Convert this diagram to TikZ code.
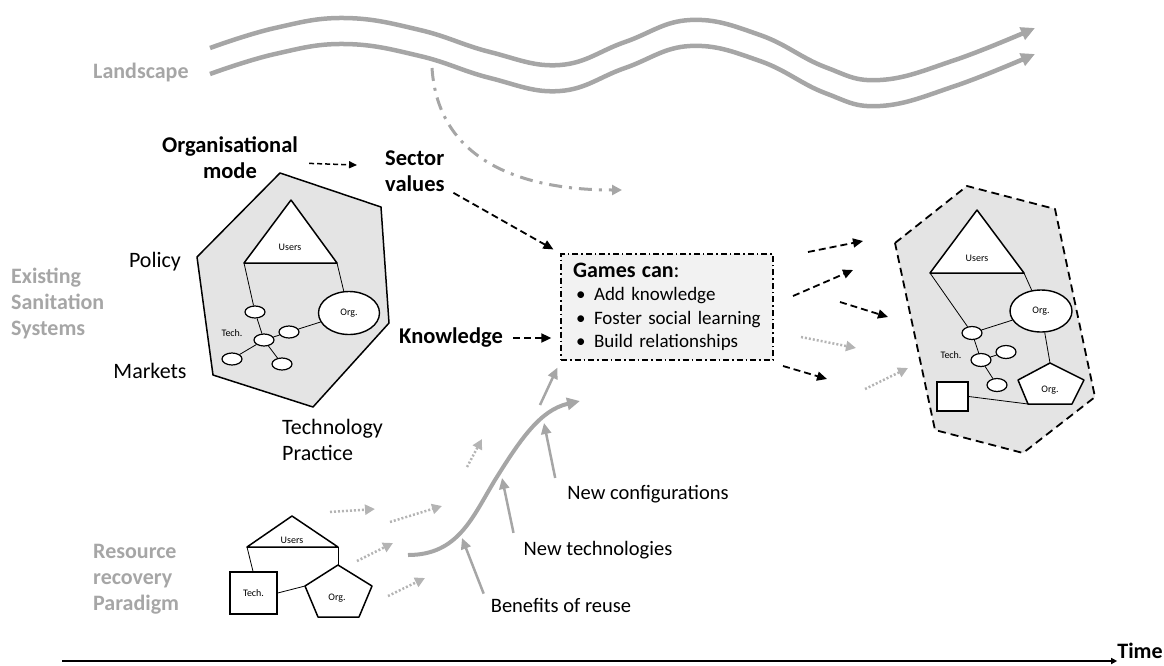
\documentclass[tikz,border=0pt]{standalone}
\usepackage{fontspec}
\setmainfont{Carlito}
\usetikzlibrary{positioning, shapes.geometric, arrows.meta}
\definecolor{lgray}{HTML}{A6A6A6}
\definecolor{dgray}{HTML}{B4B4B4}
\definecolor{fgray}{HTML}{E4E4E4}
\definecolor{bgray}{HTML}{F2F2F2}

\tikzset{
  biglabel/.style={font=\fontsize{22}{26}\selectfont, inner sep=0pt},
  lowlabel/.style={font=\fontsize{20.5}{26}\selectfont, inner sep=0pt},
  boldlabel/.style={inner sep=0pt, font=\fontsize{22.5}{26}\selectfont\bfseries},
  greylabel/.style={inner sep=0pt, font=\fontsize{22}{26}\selectfont\bfseries, text=lgray, align=left, anchor=west},
  smalllabel/.style={font=\fontsize{10}{12}\selectfont, inner sep=0pt},
  blob/.style={ellipse, draw, fill=white, line width=1.2pt, inner sep=0pt, minimum width=20pt, minimum height=13pt},
  orgblob/.style={ellipse, draw, fill=white, line width=1.4pt, inner sep=0pt, minimum width=61pt, minimum height=43pt, font=\fontsize{10}{12}\selectfont},
  boxshape/.style={draw, fill=white, line width=1.4pt, inner sep=0pt, font=\fontsize{10}{12}\selectfont},
  link/.style={line width=0.8pt},
  outline/.style={line width=1.5pt, line join=round},
  blackdash/.style={line width=1.8pt, dash pattern=on 7pt off 4pt, -{Triangle[length=10pt,width=9pt]}},
  shortdash/.style={line width=1.5pt, dash pattern=on 5pt off 3pt, -{Triangle[length=8pt,width=7pt]}},
  greydot/.style={line width=2.5pt, dgray, dash pattern=on 2pt off 2pt, -{Triangle[length=10pt,width=10pt]}},
  greyarrow/.style={line width=2.5pt, lgray, -{Triangle[length=11pt,width=10pt]}},
  wave/.style={line width=4.5pt, lgray, -{Triangle[length=14pt,width=13pt]}},
  gamesbox/.style={draw, fill=bgray, line width=1.3pt, dash pattern=on 6pt off 3pt on 1.5pt off 3pt,
    minimum width=212pt, minimum height=106pt, text width=196pt, inner xsep=8pt, align=left,
    font=\fontsize{19}{23.5}\selectfont},
}
\newcommand{\gbullet}{\hspace*{7pt}\makebox[18pt][l]{\textbullet}}

\begin{document}
\begin{tikzpicture}[x=1pt, y=-1pt]
    \useasboundingbox (0,0) rectangle (1164,665);

    % landscape waves
    \foreach \dy in {0,-26}
      \draw[wave, yshift=\dy pt] plot[smooth, tension=0.7] coordinates {(210,48) (275,28) (345,18) (420,30) (490,52) (560,65) (625,42) (690,20) (760,35) (825,67) (880,80) (955,60) (1035,28)};
    \coordinate (ls0) at (432,68);
    \coordinate (ls1) at (622,190);
    \draw[lgray, line width=3pt, dash pattern=on 13pt off 7pt on 3pt off 7pt, -{Triangle[length=10pt,width=10pt]}]
        (ls0) .. controls (438,160) and (520,190) .. (ls1);

    % labels
    \node[greylabel] (landscape) at (93,73) {Landscape};
    \node[greylabel] (existing) at (11,303) {Existing\\Sanitation\\Systems};
    \node[greylabel] (resource) at (93,579) {Resource\\recovery\\Paradigm};
    \node[boldlabel, align=center] (orgmode) at (230,158) {Organisational\\mode};
    \node[boldlabel, align=left, anchor=west] (sector) at (385,171) {Sector\\values};
    \node[boldlabel] (knowledge) at (451,338) {Knowledge};
    \node[biglabel] (policy) at (155,262) {Policy};
    \node[biglabel] (markets) at (150,371) {Markets};
    \node[biglabel, align=left, anchor=west] (techprac) at (282,440) {Technology\\Practice};
    \node[lowlabel] (reuse) at (561,605) {Benefits of reuse};
    \node[lowlabel] (newtech) at (598,550) {New technologies};
    \node[lowlabel] (newconf) at (648,494) {New configurations};

    % existing system
    \draw[outline, fill=fgray] (280,173) -- (381,207) -- (389,323) -- (313,407) -- (213,375) -- (197,257) -- cycle;
    \coordinate (lt1) at (291,200);
    \coordinate (lt2) at (337,263);
    \coordinate (lt3) at (244,263);
    \draw[outline, fill=white] (lt1) -- (lt2) -- (lt3) -- cycle;
    \node[smalllabel] at (290,247) {Users};
    \node[orgblob] (lorg) at (349,313) {Org.};
    \node[blob, minimum height=12pt] (le1) at (255,312) {};
    \node[blob, minimum height=12pt] (le2) at (264,340) {};
    \node[blob, minimum height=12pt] (le3) at (289,332) {};
    \node[blob, minimum height=12pt] (le4) at (232,359) {};
    \node[blob, minimum height=12pt] (le5) at (282,364) {};
    \node[smalllabel] at (232,333) {Tech.};
    \draw[link] (lt3) -- (le1);
    \draw[link] (lt2) -- (lorg);
    \draw[link] (le1) -- (le2);
    \draw[link] (le2) -- (le5);
    \draw[link] (le2) -- (le4);
    \draw[link] (le2) -- (le3);
    \draw[link] (le3) -- (lorg);

    % future system
    \draw[outline, fill=fgray, line width=1.8pt, dash pattern=on 8pt off 5pt] (895,243) -- (967,186) -- (1055,209) -- (1095,397) -- (1023,453) -- (935,430) -- cycle;
    \coordinate (rt1) at (977,210);
    \coordinate (rt2) at (1024,273);
    \coordinate (rt3) at (930,273);
    \draw[outline, fill=white] (rt1) -- (rt2) -- (rt3) -- cycle;
    \node[smalllabel] at (977,258) {Users};
    \node[orgblob, minimum width=62pt, minimum height=42pt] (rorg) at (1041,311) {Org.};
    \node[blob] (re1) at (972,333) {};
    \node[blob] (re2) at (1006,352) {};
    \node[blob] (re3) at (981,360) {};
    \node[blob] (re4) at (997,385) {};
    \node[smalllabel] at (951,355) {Tech.};
    \coordinate (rp1) at (1050,363);
    \coordinate (rp2) at (1084,380);
    \coordinate (rp3) at (1072,404);
    \coordinate (rp4) at (1028,404);
    \coordinate (rp5) at (1018,380);
    \draw[outline, fill=white] (rp1) -- (rp2) -- (rp3) -- (rp4) -- (rp5) -- cycle;
    \node[smalllabel] at (1050,390) {Org.};
    \node[boxshape, minimum width=31pt, minimum height=29pt] (rsq) at (952.5,396.5) {};
    \draw[link] (rt3) -- (re1);
    \draw[link] (rt2) -- (rorg);
    \draw[link] (re1) -- (rorg);
    \draw[link] (re1) -- (re3);
    \draw[link] (re3) -- (re2);
    \draw[link] (re3) -- (re4);
    \draw[link] (rorg) -- (rp1);
    \draw[link] (rsq.east) -- (rp4);

    % resource recovery system
    \coordinate (bt1) at (292,516);
    \coordinate (bt2) at (338,547);
    \coordinate (bt3) at (247,547);
    \draw[outline, fill=white] (bt1) -- (bt2) -- (bt3) -- cycle;
    \node[smalllabel] at (292,540) {Users};
    \node[boxshape, minimum width=47pt, minimum height=42pt] (bsq) at (253.5,593) {Tech.};
    \coordinate (bp1) at (338,565);
    \coordinate (bp2) at (372,586);
    \coordinate (bp3) at (359,617);
    \coordinate (bp4) at (318,617);
    \coordinate (bp5) at (305,586);
    \draw[outline, fill=white] (bp1) -- (bp2) -- (bp3) -- (bp4) -- (bp5) -- cycle;
    \node[smalllabel] at (337,598) {Org.};
    \draw[link] (bt3) -- (bsq.north west -| 253,0);
    \draw[link] (bt2) -- (bp1);
    \draw[link] (bsq.east) -- (bp5);

    % games box
    \node[gamesbox] (games) at (667,307) {\hspace*{4pt}{\fontsize{22}{23.5}\selectfont\textbf{Games can}:}\\
      \gbullet Add knowledge\\
      \gbullet Foster social learning\\
      \gbullet Build relationships};

    % black dashed arrows
    \draw[shortdash, shorten <=11pt, shorten >=28pt] (orgmode.east |- 0,163) -- (sector.west |- 0,166);
    \draw[blackdash, shorten <=10pt, shorten >=8pt] (sector) -- (games.north west);
    \draw[blackdash, shorten <=10pt, shorten >=9pt] (knowledge.east) -- (knowledge.east -| games.west);
    \coordinate (oa0) at (808,252); \coordinate (oa1) at (863,241);
    \coordinate (ob0) at (793,296); \coordinate (ob1) at (853,270);
    \coordinate (oc0) at (840,302); \coordinate (oc1) at (888,317);
    \coordinate (oe0) at (783,366); \coordinate (oe1) at (827,379);
    \draw[blackdash] (oa0) -- (oa1);
    \draw[blackdash] (ob0) -- (ob1);
    \draw[blackdash] (oc0) -- (oc1);
    \draw[blackdash] (oe0) -- (oe1);

    % grey dotted arrows
    \coordinate (od0) at (801,337); \coordinate (od1) at (856,348);
    \coordinate (of0) at (865,389); \coordinate (of1) at (908,368);
    \coordinate (p10) at (330,512); \coordinate (p11) at (375,509);
    \coordinate (p20) at (390,522); \coordinate (p21) at (442,506);
    \coordinate (p30) at (357,561); \coordinate (p31) at (393,543);
    \coordinate (p40) at (388,596); \coordinate (p41) at (425,578);
    \coordinate (p50) at (467,467); \coordinate (p51) at (482,439);
    \foreach \a/\b in {od0/od1, of0/of1, p10/p11, p20/p21, p30/p31, p40/p41, p50/p51}
      \draw[greydot] (\a) -- (\b);

    % s-curve and driving arrows
    \coordinate (s0) at (408,555);
    \coordinate (s1) at (580,401);
    \draw[lgray, line width=4pt, -{Triangle[length=13pt,width=12pt]}]
        (s0) .. controls (458,555) and (472,518) .. (495,480) .. controls (520,440) and (540,410) .. (s1);
    \coordinate (h1) at (462,538);
    \coordinate (h2) at (502,478);
    \coordinate (h3) at (544,423);
    \coordinate (g0) at (540,405);
    \draw[greyarrow] ([shift={(-7,-4)}]reuse.north west) -- (h1);
    \draw[greyarrow] ([shift={(-10,-8)}]newtech.north west) -- (h2);
    \draw[greyarrow] ([shift={(-12,-7)}]newconf.north west) -- (h3);
    \draw[greyarrow] (g0) -- ([shift={(-3,7)}]games.south west);

    % time axis
    \node[boldlabel, font=\fontsize{22}{26}\selectfont\bfseries] (time) at (1140,651) {Time};
    \coordinate (t0) at (62,661);
    \draw[line width=1.6pt, -{Triangle[length=6pt,width=6pt]}] (t0) -- (t0 -| time.west);
\end{tikzpicture}
\end{document}
